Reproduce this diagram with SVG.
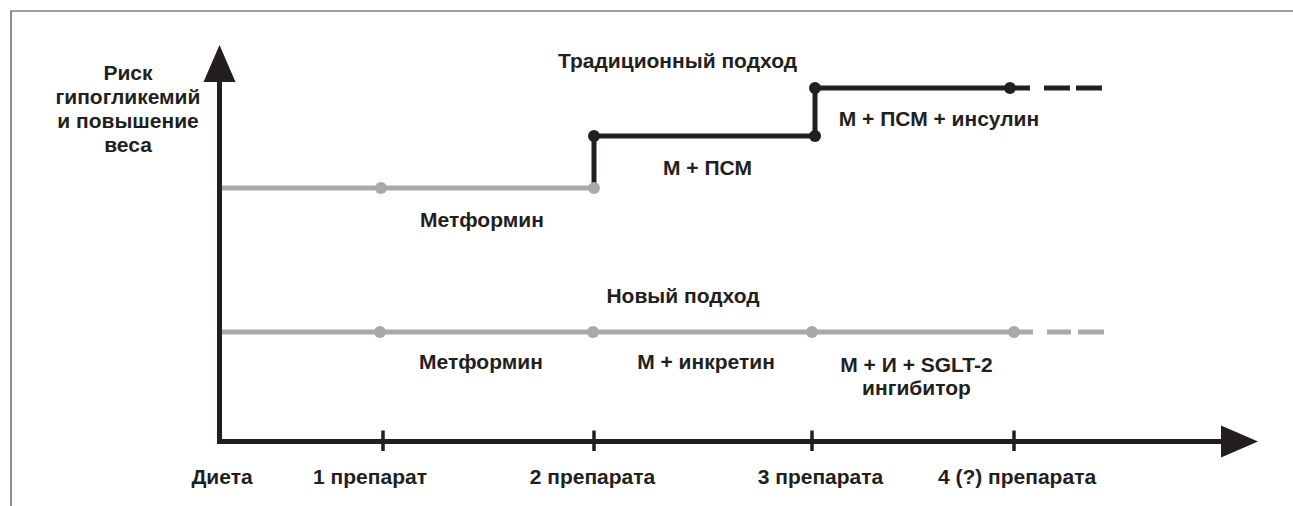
<svg xmlns="http://www.w3.org/2000/svg" width="1293" height="506" viewBox="0 0 1293 506">
  <style>
    text { font-family: "Liberation Sans", Arial, sans-serif; font-weight: bold; font-size: 21px; fill: #231f20; text-anchor: middle; }
    .ax { stroke: #231f20; stroke-width: 5; fill: none; }
    .tick { stroke: #231f20; stroke-width: 3.5; }
    .blk { stroke: #231f20; stroke-width: 5; fill: none; }
    .gry { stroke: #a7a9ac; stroke-width: 5; fill: none; }
    .bdot { fill: #231f20; }
    .gdot { fill: #a7a9ac; }
  </style>
  <rect width="1293" height="506" fill="#ffffff"/>
  <g id="frame">
    <path d="M11,506 V11 H1293" stroke="#444444" stroke-width="1.2" fill="none"/>
  </g>
  <g id="axes">
    <path class="ax" d="M219.5,78 V441.5 H1226"/>
    <polygon points="219.5,45 203.5,82 235.5,82" fill="#231f20"/>
    <polygon points="1258,441.5 1221,425.5 1221,457.5" fill="#231f20"/>
    <line class="tick" x1="383" y1="430.5" x2="383" y2="451"/>
    <line class="tick" x1="594" y1="430.5" x2="594" y2="451"/>
    <line class="tick" x1="812" y1="430.5" x2="812" y2="451"/>
    <line class="tick" x1="1014" y1="430.5" x2="1014" y2="451"/>
  </g>
  <g id="y-label">
    <text x="128" y="80">Риск</text>
    <text x="128" y="104">гипогликемий</text>
    <text x="128" y="128">и повышение</text>
    <text x="128" y="152">веса</text>
  </g>
  <g id="x-labels">
    <text x="222" y="484">Диета</text>
    <text x="370" y="484">1 препарат</text>
    <text x="592.5" y="484">2 препарата</text>
    <text x="820.5" y="484">3 препарата</text>
    <text x="1017" y="484">4 (?) препарата</text>
  </g>
  <g id="connectors">
    <path class="blk" d="M594,188 V136 H815 V88 H1030"/>
    <path class="blk" d="M1044,88 H1070 M1076,88 H1102"/>
    <path class="gry" d="M222,188 H594"/>
    <path class="gry" d="M222,332 H1033"/>
    <path class="gry" d="M1047,332 H1071 M1078,332 H1104"/>
  </g>
  <g id="traditional">
    <text x="677.5" y="68">Традиционный подход</text>
    <circle class="gdot" cx="381" cy="188" r="6"/>
    <circle class="gdot" cx="594" cy="188" r="6"/>
    <circle class="bdot" cx="594" cy="136" r="6"/>
    <circle class="bdot" cx="815" cy="136" r="6"/>
    <circle class="bdot" cx="815" cy="88" r="6"/>
    <circle class="bdot" cx="1010" cy="88" r="6"/>
    <text x="482" y="227">Метформин</text>
    <text x="707.5" y="175">М + ПСМ</text>
    <text x="939" y="126">М + ПСМ + инсулин</text>
  </g>
  <g id="new">
    <text x="683" y="303">Новый подход</text>
    <circle class="gdot" cx="380" cy="332" r="6"/>
    <circle class="gdot" cx="593" cy="332" r="6"/>
    <circle class="gdot" cx="812" cy="332" r="6"/>
    <circle class="gdot" cx="1014" cy="332" r="6"/>
    <text x="481" y="369">Метформин</text>
    <text x="706" y="369">М + инкретин</text>
    <text x="916.5" y="372">М + И + SGLT-2</text>
    <text x="916.5" y="395">ингибитор</text>
  </g>
</svg>
